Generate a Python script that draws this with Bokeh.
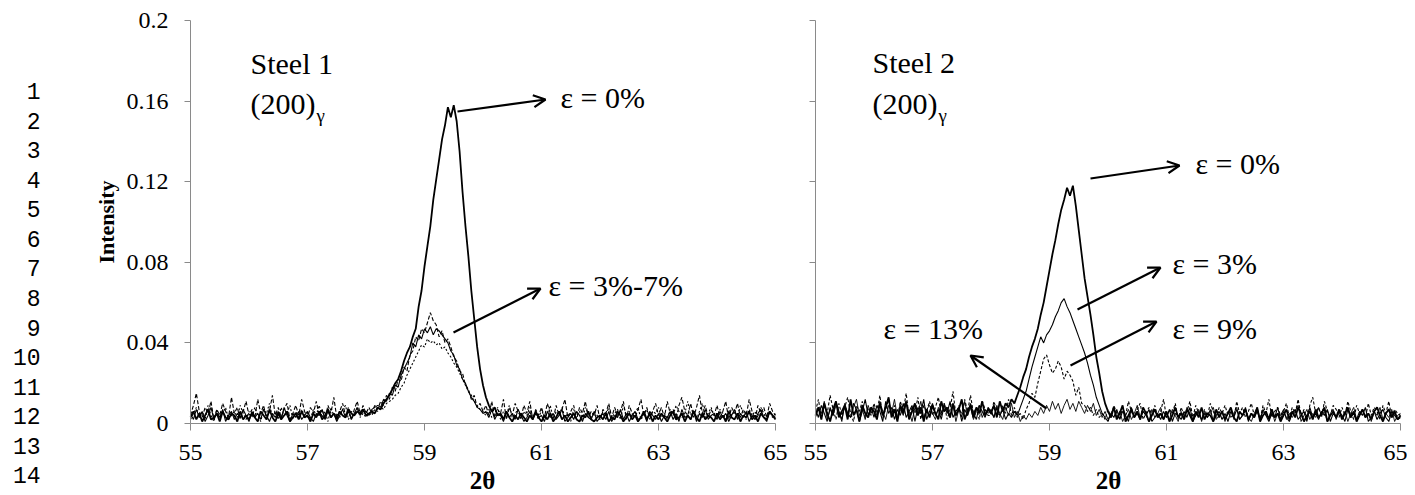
from bokeh.plotting import figure
from bokeh.layouts import row
from bokeh.models import Range1d, FixedTicker, CustomJSTickFormatter, Arrow, OpenHead
from bokeh.core.properties import value
from bokeh.embed import file_html
from bokeh.resources import INLINE

# ---------------- data ----------------
TWO_THETA = [round(55 + 0.05 * i, 2) for i in range(201)]
X_TICKS = [55, 57, 59, 61, 63, 65]
Y_TICKS = [0, 0.04, 0.08, 0.12, 0.16, 0.2]
SCALE = 0.001  # intensities below are given in thousandths

# Steel 1
S1_E0 = [
    3,6,2,5,1, 4,7,2,3,5, 1,6,3,2,5, 4,1,6,2,4,
    2,5,3,1,6, 4,2,7,3,1, 5,2,4,6,1, 3,5,2,6,3,
    4,1,5,3,6, 2,4,7,3,5, 2,6,4,3,7, 5,4,6,5,7,
    4,5,6,5,8, 7,10,12,14,17, 20,22,26,31,35, 38,43,47,58,66,
    78,88,98,111,121, 131,141,148,157,152, 158,150,135,115,98, 83,66,52,38,27,
    19,13,9,6,8, 4,5,2,6,3, 1,4,2,5,3, 1,4,2,6,3,
    1,4,2,5,1, 3,6,2,4,1, 3,5,2,1,4, 3,6,2,1,3,
    4,2,5,1,3, 2,6,4,1,3, 5,2,4,1,3, 6,2,5,1,4,
    2,5,3,1,4, 6,2,3,5,1, 4,2,6,3,1, 5,2,4,3,1,
    5,2,4,1,6, 3,2,5,1,4, 3,6,2,4,1, 5,3,2,6,4,
    2,
]
S1_E3 = [
    5,2,7,3,6, 1,4,8,2,5, 3,7,1,4,6, 2,5,3,7,4,
    1,6,3,5,2, 7,4,1,5,3, 6,2,8,4,1, 5,3,6,2,4,
    6,3,1,5,4, 7,2,6,3,5, 1,4,7,3,6, 2,5,8,4,6,
    6,4,7,8,9, 8,12,11,15,14, 19,18,24,27,30, 33,40,38,44,42,
    47,45,48,44,47, 46,44,42,40,36, 34,29,27,22,20, 16,13,11,8,7,
    5,6,3,7,2, 5,4,1,6,3, 5,2,7,4,1, 3,6,2,5,3,
    4,1,6,3,5, 2,4,7,1,3, 5,2,6,4,1, 5,3,2,6,1,
    3,5,2,6,1, 4,3,7,2,5, 1,4,6,2,3, 5,1,6,4,2,
    5,1,4,3,6, 2,5,1,7,3, 4,2,6,1,5, 3,7,2,4,5,
    2,6,3,5,1, 4,7,2,5,3, 6,1,4,2,5, 7,3,1,6,4,
    3,
]
S1_E5 = [
    4,9,15,6,3, 8,5,11,2,7, 4,10,6,3,13, 5,8,2,6,11,
    4,7,3,12,5, 9,2,6,14,4, 8,3,7,10,2, 5,9,4,12,6,
    3,8,5,11,4, 7,2,9,5,13, 3,6,10,4,8, 2,7,11,5,9,
    5,8,5,9,7, 11,9,14,12,18, 16,22,21,28,26, 34,36,43,41,47,
    45,50,55,51,49, 43,46,40,42,38, 33,31,26,25,19, 17,12,14,8,10,
    6,9,4,11,3, 7,5,12,2,8, 4,10,6,3,9, 5,11,2,7,4,
    8,3,10,5,2, 9,4,7,12,3, 6,9,2,8,5, 11,3,6,4,9,
    2,7,5,10,3, 8,4,6,11,2, 9,5,3,7,12, 4,8,2,6,10,
    4,8,3,11,5, 7,2,9,13,6, 4,10,3,8,14, 5,9,3,7,4,
    9,3,6,11,2, 8,5,10,3,7, 4,12,6,2,9, 5,8,3,10,6,
    4,
]
S1_E7 = [
    2,5,8,3,6, 2,9,4,1,7, 3,5,8,2,4, 6,3,9,5,2,
    6,3,8,4,1, 7,5,10,3,6, 2,8,4,5,9, 2,6,3,7,4,
    5,2,7,4,9, 3,6,1,8,4, 5,3,7,9,2, 6,4,8,3,5,
    3,5,4,7,6, 8,7,10,11,12, 14,15,18,20,24, 27,30,33,36,39,
    38,42,40,41,39, 40,37,38,35,33, 30,28,25,22,19, 16,14,11,9,7,
    6,4,7,3,5, 8,2,6,4,9, 3,5,7,2,6, 4,8,3,5,2,
    7,3,5,9,2, 6,4,8,3,5, 1,7,4,6,2, 8,5,3,6,4,
    2,6,4,8,3, 5,7,2,9,4, 6,3,5,8,2, 4,7,3,6,5,
    8,3,5,2,7, 4,9,6,3,5, 11,4,7,2,6, 10,3,5,8,4,
    3,7,5,2,8, 4,6,3,9,5, 2,7,4,6,3, 8,5,2,6,3,
    5,
]

# Steel 2
S2_E0 = [
    4,8,2,10,5, 1,7,11,3,6, 9,2,12,4,7, 1,9,5,3,8,
    6,2,10,4,8, 13,3,7,1,9, 5,11,2,6,10, 4,8,1,7,3,
    9,5,2,11,6, 8,3,10,4,7, 12,2,6,9,3, 8,5,11,4,7,
    5,9,3,11,6, 10,8,12,10,14, 18,23,27,33,38, 42,47,54,60,68,
    76,84,91,99,106, 111,117,113,118,108, 96,84,72,63,54, 44,33,25,16,10,
    6,3,8,2,5, 9,1,4,7,3, 6,2,8,5,1, 4,7,3,5,2,
    6,1,4,8,3, 5,2,7,4,1, 6,3,8,2,5, 4,1,7,3,6,
    2,5,8,3,1, 6,4,7,2,5, 3,8,1,4,6, 2,7,3,5,1,
    4,7,2,6,3, 8,5,1,4,6, 2,7,3,5,8, 1,4,6,3,7,
    2,5,8,3,6, 1,4,7,3,5, 2,6,8,4,1, 5,7,3,6,2,
    4,
]
S2_E3 = [
    7,3,9,5,1, 8,4,11,6,2, 9,5,3,10,7, 1,6,12,4,8,
    3,9,6,1,11, 5,8,2,7,4, 10,3,6,9,1, 8,5,12,2,6,
    10,4,7,2,9, 5,11,3,6,8, 1,7,4,10,5, 2,9,6,3,8,
    6,3,8,4,7, 2,5,3,6,4, 8,12,16,22,28, 33,38,43,40,44,
    46,49,53,56,60, 62,58,55,51,47, 43,39,35,30,24, 19,13,9,5,3,
    1,5,3,7,2, 6,4,1,8,3, 5,2,6,4,7, 1,3,5,2,6,
    3,7,1,5,4, 2,6,3,8,1, 4,6,2,5,3, 7,1,4,6,2,
    5,1,6,3,7, 2,4,8,1,5, 3,6,2,7,4, 1,5,3,8,2,
    6,3,1,5,7, 2,4,6,1,8, 3,5,2,6,4, 7,1,5,3,6,
    4,1,7,3,5, 2,6,4,8,1, 3,6,2,5,7, 3,1,6,4,2,
    3,
]
S2_E9 = [
    6,12,3,9,5, 14,7,2,10,4, 8,13,5,1,9, 6,11,3,8,4,
    10,5,14,3,7, 12,4,9,2,11, 6,15,3,8,5, 13,2,9,6,11,
    4,8,13,5,10, 2,7,16,4,9, 3,12,6,14,5, 8,2,11,7,4,
    4,11,6,3,9, 5,12,4,8,3, 5,2,7,10,15, 13,20,26,32,34,
    29,25,27,31,28, 22,26,24,21,14, 18,10,9,6,8, 4,7,3,5,2,
    7,3,9,5,2, 8,4,11,6,3, 7,10,2,5,8, 4,9,3,6,12,
    3,7,5,10,2, 8,4,6,11,3, 9,5,2,7,4, 10,6,3,8,5,
    9,4,7,2,11, 5,8,3,6,10, 4,7,2,9,5, 12,3,6,8,4,
    6,10,3,8,5, 12,4,7,2,9, 13,5,8,3,11, 6,4,9,7,3,
    8,4,11,6,2, 9,5,7,3,10, 4,8,6,2,9, 5,11,3,7,5,
    4,
]
S2_E13 = [
    3,8,5,11,2, 7,4,9,6,1, 10,5,3,8,12, 4,7,2,9,5,
    8,4,11,6,2, 9,5,12,3,7, 4,10,6,1,8, 5,11,3,7,9,
    5,2,8,4,10, 6,3,9,1,7, 5,11,4,8,2, 6,9,3,7,5,
    7,3,9,5,2, 8,4,10,3,6, 1,4,2,5,3, 6,4,8,5,9,
    6,11,7,10,5, 9,12,7,10,6, 11,8,5,9,6, 10,4,7,3,6,
    2,5,8,3,6, 1,4,7,2,5, 9,3,6,4,1, 7,3,5,8,2,
    5,2,7,4,1, 6,3,8,5,2, 4,7,1,6,3, 5,8,2,4,6,
    1,6,3,5,8, 2,4,7,3,1, 5,8,2,6,4, 3,7,1,5,4,
    7,2,5,3,6, 9,1,4,7,2, 5,3,8,4,6, 1,5,7,2,6,
    3,6,1,5,8, 2,4,7,3,5, 1,6,4,8,2, 5,3,7,1,4,
    5,
]

for arr in (S1_E0, S1_E3, S1_E5, S1_E7, S2_E0, S2_E3, S2_E9, S2_E13):
    assert len(arr) == len(TWO_THETA), len(arr)

ROW_NUMBERS = [str(i) for i in range(1, 15)]

# ---------------- layout constants (page pixels) ----------------
PAGE_M = 0               # the page is rendered flush with the window
FIG_H = 495
LEFT_W = 795
RIGHT_W = 612
L_AX_LEFT = 190          # page x of 2θ = 55, left panel
R_AX_LEFT = 815          # page x of 2θ = 55, right panel
AX_TOP = 20              # page y of intensity 0.2
AX_BOTTOM = 423          # page y of intensity 0
PX_PER_X = 58.5
PX_PER_Y = (AX_BOTTOM - AX_TOP) / 0.2
# measured vertical offset of rendered text relative to requested baseline
BASE_SHIFT = {"alphabetic": 0.34, "middle": 0.10}


def lx(px):
    return 55 + (px - L_AX_LEFT) / PX_PER_X


def rx(px):
    return 55 + (px - R_AX_LEFT) / PX_PER_X


def yy(py):
    return (AX_BOTTOM - py) / PX_PER_Y


SERIF = "Liberation Serif"
AXIS_GREY = "#8a8a8a"

y_fmt = CustomJSTickFormatter(code="""
    var s = tick.toFixed(2);
    s = s.replace(/0+$/, '').replace(/\\.$/, '');
    return s;
""")
blank_fmt = CustomJSTickFormatter(code="return '';")


def make_fig(width, fig_left_page, with_labels, xconv):
    x0 = xconv(fig_left_page)
    x1 = xconv(fig_left_page + width)
    y0 = yy(PAGE_M + FIG_H)
    y1 = yy(PAGE_M)
    p = figure(width=width, height=FIG_H,
               x_range=Range1d(x0, x1), y_range=Range1d(y0, y1),
               output_backend="svg", toolbar_location=None,
               min_border=0, min_border_left=0, min_border_right=0,
               min_border_top=0, min_border_bottom=0)
    p.outline_line_color = None
    p.xgrid.grid_line_color = None
    p.ygrid.grid_line_color = None
    p.background_fill_color = "white"
    p.border_fill_color = "white"
    xa = p.xaxis[0]
    ya = p.yaxis[0]
    for ax in (xa, ya):
        ax.axis_line_color = AXIS_GREY
        ax.major_tick_line_color = AXIS_GREY
        ax.minor_tick_line_color = None
        ax.major_tick_in = 0
        ax.major_label_text_font = SERIF
        ax.major_label_text_font_size = "24px"
        ax.major_label_text_color = "black"
    xa.fixed_location = 0
    xa.bounds = (55, 65)
    xa.ticker = FixedTicker(ticks=X_TICKS)
    xa.major_tick_out = 7
    xa.major_label_standoff = 14
    ya.fixed_location = 55
    ya.bounds = (0, 0.2)
    ya.ticker = FixedTicker(ticks=Y_TICKS)
    ya.major_tick_out = 6
    if with_labels:
        ya.formatter = y_fmt
        ya.major_label_standoff = 16
        ya.axis_label = "Intensity"
        ya.axis_label_text_font = SERIF
        ya.axis_label_text_font_style = "bold"
        ya.axis_label_text_font_size = "22px"
        ya.axis_label_text_color = "black"
        ya.axis_label_standoff = 5
    else:
        ya.formatter = blank_fmt
        ya.major_label_standoff = 0
    return p


def add_text(p, xconv, px, py, text, size=30, align="left", baseline="alphabetic",
             style="normal", font=SERIF):
    py_adj = py - BASE_SHIFT.get(baseline, 0) * size
    p.text(x=[xconv(px)], y=[yy(py_adj)], text=[text], text_font=value(font),
           text_font_size=value(f"{size}px"),
           text_align=align, text_baseline=baseline, text_font_style=style,
           text_color="black")


def add_arrow(p, xconv, px0, py0, px1, py1):
    p.add_layout(Arrow(end=OpenHead(size=12, line_width=2.2, line_color="black"),
                       x_start=xconv(px0), y_start=yy(py0),
                       x_end=xconv(px1), y_end=yy(py1),
                       line_width=2.2, line_color="black"))


def scaled(arr):
    return [v * SCALE for v in arr]


# ---------------- left panel: Steel 1 ----------------
left = make_fig(LEFT_W, PAGE_M, True, lx)
left.line(TWO_THETA, scaled(S1_E7), line_color="black", line_width=1.1, line_dash="2 2")
left.line(TWO_THETA, scaled(S1_E5), line_color="black", line_width=1.1, line_dash="4 2")
left.line(TWO_THETA, scaled(S1_E3), line_color="black", line_width=1.1)
left.line(TWO_THETA, scaled(S1_E0), line_color="black", line_width=1.8)

add_text(left, lx, 250, 73, "Steel 1")
add_text(left, lx, 250, 113, "(200)")
add_text(left, lx, 316, 121, "γ", size=19)
add_text(left, lx, 560, 107, "ε = 0%")
add_arrow(left, lx, 457, 111, 545, 99)
add_text(left, lx, 548, 295, "ε = 3%-7%")
add_arrow(left, lx, 453, 332, 540, 288)
add_text(left, lx, 482, 488, "2θ", size=25, align="center", style="bold")
for i, lab in enumerate(ROW_NUMBERS):
    add_text(left, lx, 40, 93 + i * 29.54, lab, size=23, align="right",
             baseline="middle", font="Liberation Mono")

# ---------------- right panel: Steel 2 ----------------
right = make_fig(RIGHT_W, PAGE_M + LEFT_W, False, rx)
right.line(TWO_THETA, scaled(S2_E13), line_color="black", line_width=0.9)
right.line(TWO_THETA, scaled(S2_E9), line_color="black", line_width=1.1, line_dash="3 2")
right.line(TWO_THETA, scaled(S2_E3), line_color="black", line_width=1.1)
right.line(TWO_THETA, scaled(S2_E0), line_color="black", line_width=1.8)

add_text(right, rx, 872, 72, "Steel 2")
add_text(right, rx, 872, 113, "(200)")
add_text(right, rx, 938, 121, "γ", size=19)
add_text(right, rx, 1195, 173, "ε = 0%")
add_arrow(right, rx, 1090, 178, 1179, 165)
add_text(right, rx, 1172, 273, "ε = 3%")
add_arrow(right, rx, 1077, 309, 1160, 267)
add_text(right, rx, 1172, 338, "ε = 9%")
add_arrow(right, rx, 1070, 365, 1156, 321)
add_text(right, rx, 883, 338, "ε = 13%")
add_arrow(right, rx, 1046, 408, 970, 355)
add_text(right, rx, 1108, 488, "2θ", size=25, align="center", style="bold")

layout = row(left, right)
open("out.html", "w").write(file_html(layout, INLINE))
